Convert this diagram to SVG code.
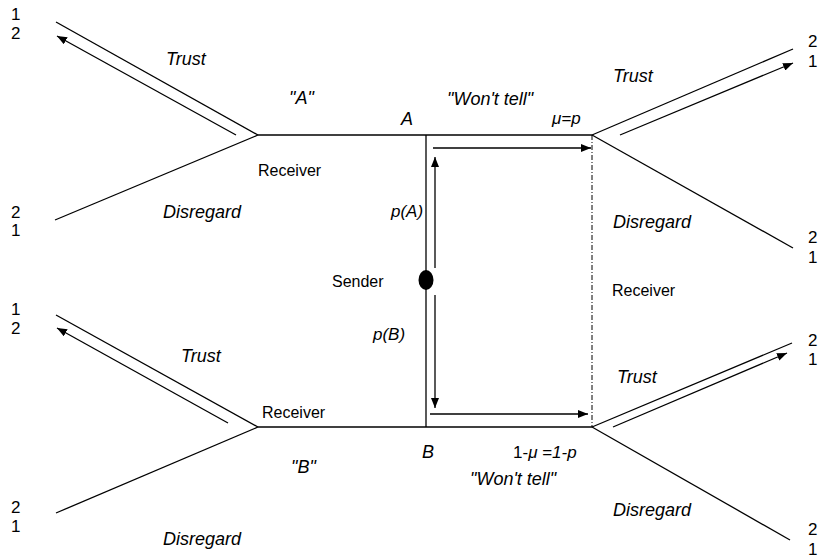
<svg xmlns="http://www.w3.org/2000/svg" width="827" height="558" viewBox="0 0 827 558">
<style>
text{font-family:"Liberation Sans",Arial,sans-serif;font-size:16px;fill:#000}
.i{font-style:italic;font-size:18px}
.m{font-style:italic;font-size:17px}
.d{font-size:17px}
line{stroke:#000;stroke-width:1.3;fill:none}
.arr{marker-end:url(#ah)}
.dd{stroke-dasharray:5,2,1,2;stroke-width:1}
</style>
<defs>
<marker id="ah" markerUnits="userSpaceOnUse" markerWidth="10" markerHeight="8" refX="10" refY="4" orient="auto"><path d="M0,0 L10,4 L0,8 z" fill="#000"/></marker>
</defs>
<rect width="827" height="558" fill="#fff"/>
<g id="connectors">
<line x1="258" y1="135" x2="592" y2="135"/>
<line x1="258" y1="427" x2="592" y2="427"/>
<line x1="426" y1="135" x2="426" y2="427"/>
<line class="dd" x1="592" y1="135" x2="592" y2="427"/>
<line class="arr" x1="433" y1="148" x2="591" y2="148"/>
<line class="arr" x1="430" y1="414" x2="588" y2="414"/>
<line class="arr" x1="435" y1="268" x2="435" y2="157"/>
<line class="arr" x1="435" y1="295" x2="435" y2="408"/>
</g>
<g id="sender">
<ellipse cx="426" cy="280" rx="7.5" ry="10" fill="#000"/>
<text x="332" y="287">Sender</text>
<text class="m" x="391" y="217">p(A)</text>
<text class="m" x="373" y="340">p(B)</text>
</g>
<g id="receiver-A">
<line x1="258" y1="135" x2="56" y2="22"/>
<line class="arr" x1="236" y1="135" x2="57" y2="36"/>
<line x1="258" y1="135" x2="55" y2="220"/>
<text x="258" y="176">Receiver</text>
<text class="i" x="166" y="65">Trust</text>
<text class="i" x="163" y="218">Disregard</text>
<text class="i" x="289" y="104">"A"</text>
<text class="i" x="401" y="125">A</text>
<text class="d" x="11" y="20">1</text><text class="d" x="11" y="39">2</text>
<text class="d" x="11" y="218">2</text><text class="d" x="11" y="236">1</text>
</g>
<g id="receiver-B">
<line x1="258" y1="427" x2="56" y2="315"/>
<line class="arr" x1="228" y1="423" x2="57" y2="328"/>
<line x1="258" y1="427" x2="56" y2="513"/>
<text x="262" y="418">Receiver</text>
<text class="i" x="181" y="362">Trust</text>
<text class="i" x="163" y="545">Disregard</text>
<text class="i" x="291" y="473">"B"</text>
<text class="i" x="422" y="458">B</text>
<text class="d" x="11" y="315">1</text><text class="d" x="11" y="334">2</text>
<text class="d" x="11" y="513">2</text><text class="d" x="11" y="532">1</text>
</g>
<g id="receiver-info">
<line x1="592" y1="135" x2="793" y2="49"/>
<line class="arr" x1="620" y1="135" x2="793" y2="63"/>
<line x1="592" y1="135" x2="793" y2="248"/>
<line x1="592" y1="427" x2="792" y2="343"/>
<line class="arr" x1="613" y1="427" x2="787" y2="353"/>
<line x1="592" y1="427" x2="790" y2="540"/>
<text x="612" y="296">Receiver</text>
<text class="i" x="447" y="105">"Won't tell"</text>
<text class="m" x="552" y="124">μ=p</text>
<text class="i" x="470" y="485">"Won't tell"</text>
<text class="d" x="513" y="458">1-<tspan font-style="italic">μ</tspan> =<tspan font-style="italic">1-p</tspan></text>
<text class="i" x="613" y="82">Trust</text>
<text class="i" x="613" y="228">Disregard</text>
<text class="i" x="617" y="383">Trust</text>
<text class="i" x="613" y="516">Disregard</text>
<text class="d" x="808" y="47">2</text><text class="d" x="808" y="67">1</text>
<text class="d" x="808" y="243">2</text><text class="d" x="808" y="263">1</text>
<text class="d" x="808" y="346">2</text><text class="d" x="808" y="365">1</text>
<text class="d" x="808" y="535">2</text><text class="d" x="808" y="555">1</text>
</g>
</svg>
